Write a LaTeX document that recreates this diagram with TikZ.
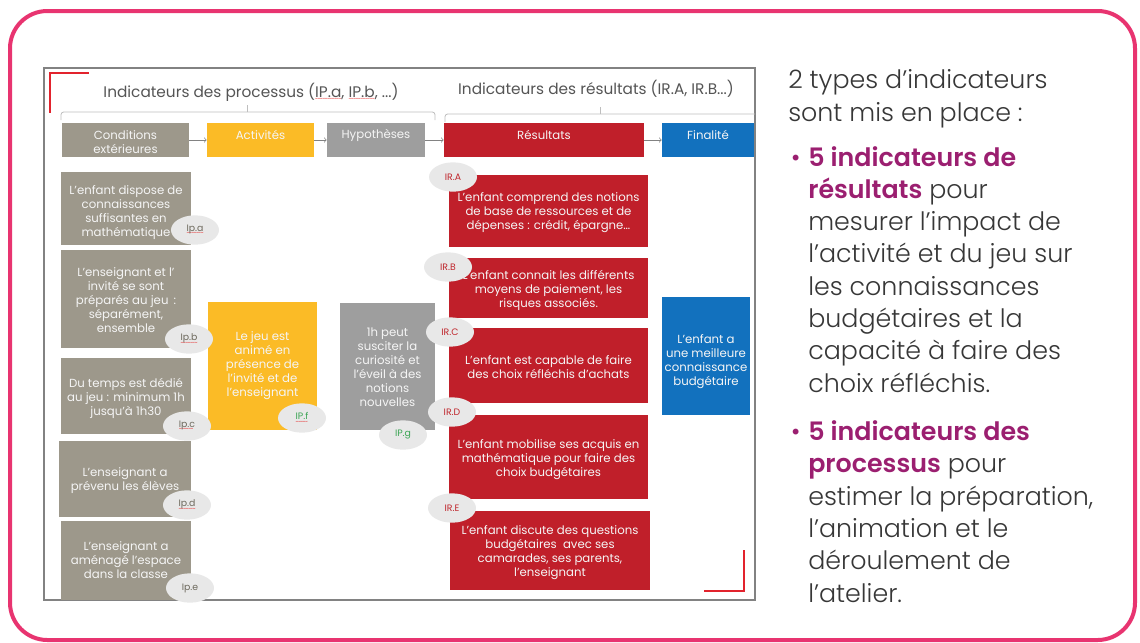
\documentclass[tikz,border=0pt]{standalone}
\usepackage{fontspec}
\setmainfont{Poppins}
\IfFontExistsTF{Poppins Light}{\newfontfamily\lightfont{Poppins Light}}{\newfontfamily\lightfont{Poppins}}
\usepackage{tikz}
\usetikzlibrary{arrows,shapes.geometric,fit}

\definecolor{framepink}{RGB}{232,52,112}
\definecolor{condgrey}{RGB}{157,152,139}
\definecolor{actyellow}{RGB}{251,187,38}
\definecolor{hypgrey}{RGB}{158,158,158}
\definecolor{resred}{RGB}{192,31,42}
\definecolor{finblue}{RGB}{18,113,190}
\definecolor{tagfill}{RGB}{232,232,232}
\definecolor{taggrey}{RGB}{110,106,94}
\definecolor{taggreen}{RGB}{60,165,85}
\definecolor{tagred}{RGB}{192,39,45}
\definecolor{spellred}{RGB}{230,30,30}
\definecolor{slidegrey}{RGB}{130,130,130}
\definecolor{bracegrey}{RGB}{190,190,190}
\definecolor{cornerred}{RGB}{226,35,45}
\definecolor{titlegrey}{RGB}{85,85,85}
\definecolor{bodytext}{RGB}{55,55,55}
\definecolor{plum}{RGB}{155,31,112}
\definecolor{boxtext}{RGB}{245,245,245}

\newsavebox\spellbox
\newcommand\spellwave[1]{\sbox\spellbox{#1}\rlap{\raisebox{-2.4pt}{\textcolor{spellred}{\fontsize{4}{4}\selectfont\leaders\hbox{\char126\kern-0.3pt}\hskip\wd\spellbox}}}#1}

\begin{document}
\begin{tikzpicture}[x=0.75pt, y=-0.75pt,
	box/.style={inner sep=0pt},
	boxlabel/.style={inner sep=0pt, align=center, text=boxtext, font=\fontsize{8.8}{10.5}\selectfont},
	tag/.style={ellipse, fill=tagfill, minimum width=36pt, minimum height=22pt, inner sep=0pt, font=\fontsize{7}{8}\selectfont},
	flow/.style={->, draw=slidegrey, line width=0.5pt},
	brace/.style={draw=bracegrey, line width=0.6pt, rounded corners=2pt},
	corner/.style={draw=cornerred, line width=1.5pt},
	slidetitle/.style={text=titlegrey, font=\fontsize{11.5}{13}\selectfont},
	sidetext/.style={anchor=base west, align=left, inner sep=0pt, text=bodytext, font=\lightfont\fontsize{19}{24.2}\selectfont}]
	\useasboundingbox (0,0) rectangle (1140,643);
	\draw[framepink, line width=3pt, rounded corners=28pt] (10,11) rectangle (1135,640);
	\draw[slidegrey, line width=1.2pt] (44,68) rectangle (755,600);

	\draw[corner] (89,73) -- (50,73) -- (50,113);
	\draw[corner] (744,550) -- (744,591) -- (704,591);

	\node[slidetitle] (ptitle) at (251,92) {Indicateurs des processus (\spellwave{IP.a}, \spellwave{IP.b}, ...)};
	\node[slidetitle] (rtitle) at (596,89) {Indicateurs des résultats (IR.A, IR.B...)};
	\draw[brace] (61,120) -- (61,112) -- (435,112) -- (435,120);
	\draw[brace] (247,112) -- (247,105);
	\draw[brace] (445,122) -- (445,114) -- (755,114);
	\draw[brace] (600,114) -- (600,107);

	\node[box, fill=condgrey, fit={(62,123) (189,157)}] (cond) {};
	\node[box, fill=actyellow, fit={(207,123) (314,157)}] (act) {};
	\node[box, fill=hypgrey, fit={(327,123) (425,157)}] (hyp) {};
	\node[box, fill=resred, fit={(444,123) (644,157)}] (res) {};
	\node[box, fill=finblue, fit={(662,123) (754,157)}] (fin) {};
	\node[boxlabel] (cond-t) at ([yshift=-1.5pt]cond.center) {Conditions\\extérieures};
	\node[boxlabel] (act-t) at ([yshift=3.5pt]act.center) {Activités};
	\node[boxlabel] (hyp-t) at ([yshift=3.5pt]hyp.center) {Hypothèses};
	\node[boxlabel] (res-t) at ([yshift=3.5pt]res.center) {Résultats};
	\node[boxlabel] (fin-t) at ([yshift=3.5pt]fin.center) {Finalité};
	\draw[flow] (cond) -- (act);
	\draw[flow] (act) -- (hyp);
	\draw[flow] (hyp) -- (res);
	\draw[flow] (res) -- (fin);

	\node[box, fill=condgrey, fit={(61,172) (191,245)}] (conda) {};
	\node[box, fill=condgrey, fit={(61,250) (191,348)}] (condb) {};
	\node[box, fill=condgrey, fit={(61,358) (191,434)}] (condc) {};
	\node[box, fill=condgrey, fit={(59,441) (191,517)}] (condd) {};
	\node[box, fill=condgrey, fit={(61,521) (191,600)}] (conde) {};
	\node[boxlabel] (conda-t) at ([yshift=-3pt]conda.center) {L’enfant dispose de\\connaissances\\suffisantes en\\mathématique};
	\node[boxlabel] (condb-t) at ([yshift=-0.5pt]condb.center) {L’enseignant et l’\\invité se sont\\préparés au jeu \,:\\séparément,\\ensemble};
	\node[boxlabel] (condc-t) at ([yshift=-2pt]condc.center) {Du temps est dédié\\au jeu : minimum 1h\\jusqu’à 1h30};
	\node[boxlabel] (condd-t) at ([yshift=-1pt]condd.center) {L’enseignant a\\prévenu les élèves};
	\node[boxlabel] (conde-t) at ([yshift=0pt]conde.center) {L’enseignant a\\aménagé l’espace\\dans la classe};

	\node[box, fill=actyellow, fit={(208,302) (317,430)}] (actf) {};
	\node[box, fill=hypgrey, fit={(340,303) (435,430)}] (hypg) {};
	\node[boxlabel] (actf-t) at (actf.center) {Le jeu est\\animé en\\présence de\\l’invité et de\\l’enseignant};
	\node[boxlabel] (hypg-t) at ([yshift=-0.5pt]hypg.center) {1h peut\\susciter la\\curiosité et\\l’éveil à des\\notions\\nouvelles};

	\node[box, fill=resred, fit={(449,175) (648,247)}] (resa) {};
	\node[box, fill=resred, fit={(449,258) (648,318)}] (resb) {};
	\node[box, fill=resred, fit={(449,328) (648,403)}] (resc) {};
	\node[box, fill=resred, fit={(449,415) (648,499)}] (resd) {};
	\node[box, fill=resred, fit={(450,511) (650,590)}] (rese) {};
	\node[boxlabel] (resa-t) at ([yshift=-1.5pt]resa.center) {L’enfant comprend des notions\\de base de ressources et de\\dépenses : crédit, épargne…};
	\node[boxlabel] (resb-t) at ([yshift=-2pt]resb.center) {L’enfant connait les différents\\moyens de paiement, les\\risques associés.};
	\node[boxlabel] (resc-t) at ([yshift=-1.2pt]resc.center) {L’enfant est capable de faire\\des choix réfléchis d’achats};
	\node[boxlabel] (resd-t) at ([yshift=-2pt]resd.center) {L’enfant mobilise ses acquis en\\mathématique pour faire des\\choix budgétaires};
	\node[boxlabel] (rese-t) at ([yshift=-1.5pt]rese.center) {L’enfant discute des questions\\budgétaires \ avec ses\\camarades, ses parents,\\l’enseignant};

	\node[box, fill=finblue, fit={(662,297) (750,415)}] (finh) {};
	\node[boxlabel] (finh-t) at ([yshift=-4.5pt]finh.center) {L’enfant a\\une meilleure\\connaissance\\budgétaire};

	\node[tag, text=taggrey] (tipa) at (195,230) {\spellwave{Ip.a}};
	\node[tag, text=taggrey] (tipb) at (189,339) {\spellwave{Ip.b}};
	\node[tag, text=taggrey] (tipc) at (187,426) {\spellwave{Ip.c}};
	\node[tag, text=taggrey] (tipd) at (187,505) {\spellwave{Ip.d}};
	\node[tag, text=taggrey] (tipe) at (190,588) {Ip.e};
	\node[tag, text=taggreen] (tipf) at (302,418) {\spellwave{IP.f}};
	\node[tag, text=taggreen] (tipg) at (403,435) {IP.g};
	\node[tag, text=tagred] (tira) at (453,177) {IR.A};
	\node[tag, text=tagred] (tirb) at (448,267) {IR.B};
	\node[tag, text=tagred] (tirc) at (450,332) {IR.C};
	\node[tag, text=tagred] (tird) at (452,412) {IR.D};
	\node[tag, text=tagred] (tire) at (452,508) {IR.E};

	\node[sidetext] (intro) at (788,121) {2 types d’indicateurs\\sont mis en place :};
	\node[sidetext] (itemres) at (808,392) {\llap{\textcolor{plum}{•}\hspace{6pt}}\textcolor{plum}{\bfseries 5 indicateurs de}\\\textcolor{plum}{\bfseries résultats} pour\\mesurer l’impact de\\l’activité et du jeu sur\\les connaissances\\budgétaires et la\\capacité à faire des\\choix réfléchis.};
	\node[sidetext] (itemproc) at (808,602) {\llap{\textcolor{plum}{•}\hspace{6pt}}\textcolor{plum}{\bfseries 5 indicateurs des}\\\textcolor{plum}{\bfseries processus} pour\\estimer la préparation,\\l’animation et le\\déroulement de\\l’atelier.};
\end{tikzpicture}
\end{document}
